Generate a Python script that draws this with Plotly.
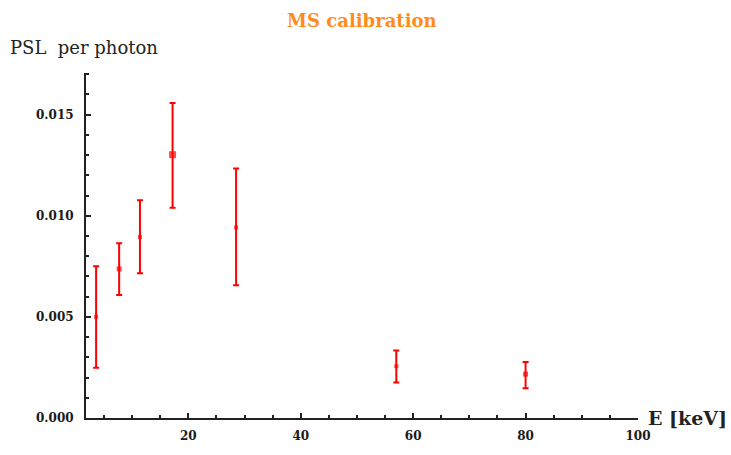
import plotly.graph_objects as go

energy_kev = [3.6, 7.7, 11.4, 17.2, 28.5, 57.0, 80.0]
psl_per_photon = [0.0050, 0.00737, 0.00895, 0.01302, 0.00942, 0.00256, 0.00217]
err_plus = [0.00251, 0.00127, 0.00182, 0.00256, 0.00292, 0.00078, 0.00060]
err_minus = [0.00251, 0.00129, 0.00179, 0.00262, 0.00285, 0.00080, 0.00070]
marker_sizes = [4, 5, 4, 7, 4, 4, 5]

x_ticks = [20, 40, 60, 80, 100]
x_tick_text = ["20", "40", "60", "80", "100"]
y_ticks = [0.000, 0.005, 0.010, 0.015]
y_tick_text = ["0.000", "0.005", "0.010", "0.015"]

fig = go.Figure()
fig.add_trace(go.Scatter(
    x=energy_kev, y=psl_per_photon, mode="markers",
    marker=dict(color="#ff0000", size=marker_sizes, symbol="square", line=dict(width=0)),
    error_y=dict(type="data", symmetric=False, array=err_plus, arrayminus=err_minus,
                 color="#ff0000", thickness=2, width=3),
    showlegend=False,
))

serif = "DejaVu Serif"
tick_font = dict(family=serif, size=12, color="#1a1a1a")
fig.update_layout(
    width=731, height=455,
    margin=dict(l=86, r=93, t=73, b=33),
    paper_bgcolor="white", plot_bgcolor="white",
    title=dict(text="<b>MS calibration</b>", x=0.495, xanchor="center", y=0.955, yanchor="middle",
               font=dict(family=serif, size=18, color="#ff8c1a")),
    xaxis=dict(range=[1.8, 100], tickvals=x_ticks, ticktext=["<b>%s</b>" % t for t in x_tick_text],
               ticks="inside", ticklen=5, tickwidth=1.5, ticklabelstandoff=6,
               tickcolor="#222", showline=True, linecolor="#222", linewidth=2, showgrid=False,
               zeroline=False, tickfont=tick_font,
               minor=dict(dtick=5, tick0=0, ticks="inside", ticklen=3, tickcolor="#222", showgrid=False)),
    yaxis=dict(range=[0, 0.01706], tickvals=y_ticks, ticktext=["<b>%s</b>" % t for t in y_tick_text],
               ticks="inside", ticklen=5, ticklabelstandoff=8,
               tickwidth=1.5, tickcolor="#222", showline=True, linecolor="#222", linewidth=2,
               showgrid=False, zeroline=False, tickfont=tick_font,
               minor=dict(dtick=0.001, tick0=0, ticks="inside", ticklen=3, tickcolor="#222", showgrid=False)),
    annotations=[
        dict(text="PSL  per photon", xref="paper", yref="paper", x=-0.142, y=1.075,
             xanchor="left", yanchor="middle", showarrow=False,
             font=dict(family=serif, size=18, color="#222")),
        dict(text="<b>E [keV]</b>", xref="paper", yref="paper", x=1.014, y=0.0,
             xanchor="left", yanchor="middle", showarrow=False,
             font=dict(family=serif, size=19, color="#222")),
    ],
)

fig.write_html("out.html")
